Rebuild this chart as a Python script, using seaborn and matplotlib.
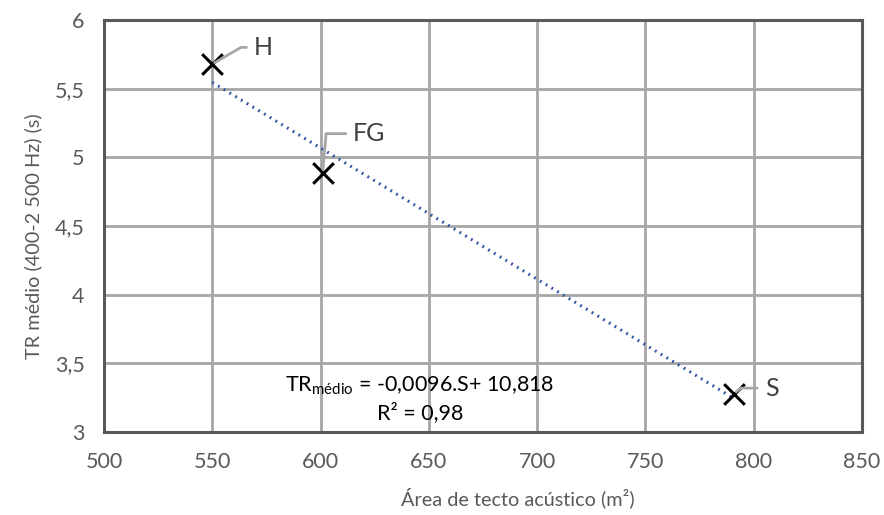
import numpy as np
import pandas as pd
import seaborn as sns
import matplotlib
matplotlib.use("Agg")
import matplotlib.pyplot as plt

labels = ["H", "FG", "S"]
area = [550, 601, 791]
tr = [5.68, 4.89, 3.28]
xticks = [500, 550, 600, 650, 700, 750, 800, 850]
yticks = [3, 3.5, 4, 4.5, 5, 5.5, 6]

sns.set_theme(style="white")
plt.rcParams['font.family'] = ['Lato', 'DejaVu Sans']
plt.rcParams['mathtext.fontset'] = 'custom'
plt.rcParams['mathtext.rm'] = 'Lato'
plt.rcParams['mathtext.it'] = 'Lato'

df = pd.DataFrame({"area": area, "tr": tr, "label": labels})

fig = plt.figure(figsize=(8.84, 5.15), dpi=100)
ax = fig.add_axes([0.1176, 0.161, 0.8574, 0.800])

sns.regplot(data=df, x="area", y="tr", ax=ax, ci=None, scatter=False,
            line_kws=dict(color="#2e55a0", lw=2.2, ls=(0, (0.6, 1.6))))
sns.scatterplot(data=df, x="area", y="tr", ax=ax, marker="x", s=220,
                color="black", linewidth=2.2, zorder=5)

ax.set_xlim(500, 850)
ax.set_ylim(3, 6)
ax.set_xticks(xticks)
ax.set_yticks(yticks)
ax.set_xticklabels([str(v) for v in xticks])
ax.set_yticklabels([("%g" % v).replace(".", ",") for v in yticks])
ax.grid(True, color="#a6a6a6", lw=2)
ax.set_axisbelow(True)
for s in ax.spines.values():
    s.set_color("#595959")
    s.set_linewidth(2.2)
ax.tick_params(axis="both", labelsize=15.5, colors="#595959", length=0)
ax.tick_params(axis="x", pad=14)
ax.tick_params(axis="y", pad=14)
ax.set_xlabel("Área de tecto acústico (m²)", fontsize=14.3, color="#595959")
ax.set_ylabel("TR médio (400-2 500 Hz) (s)", fontsize=14.3, color="#595959")
ax.xaxis.set_label_coords(0.546, -0.133)
ax.yaxis.set_label_coords(-0.081, 0.476)

offsets = {"H": (30, 12), "FG": (22, 28), "S": (22, 4)}
angles = {"H": 30, "FG": 85, "S": 40}
for lab, xv, yv in zip(labels, area, tr):
    dx, dy = offsets[lab]
    ax.annotate(lab, xy=(xv, yv), xytext=(dx, dy), textcoords="offset points",
                fontsize=18, color="#404040", va="center", ha="left",
                arrowprops=dict(arrowstyle="-", color="#a6a6a6", lw=2,
                                connectionstyle="angle,angleA=0,angleB=%d,rad=0" % angles[lab],
                                shrinkA=3, shrinkB=2), zorder=6)

ax.text(646, 3.34, r"TR$_{\mathrm{médio}}$ = -0,0096.S+ 10,818", fontsize=15.5,
        color="black", ha="center", va="center")
ax.text(646, 3.145, "R² = 0,98", fontsize=15.5, color="black", ha="center", va="center")

fig.savefig("out.png", dpi=100)
